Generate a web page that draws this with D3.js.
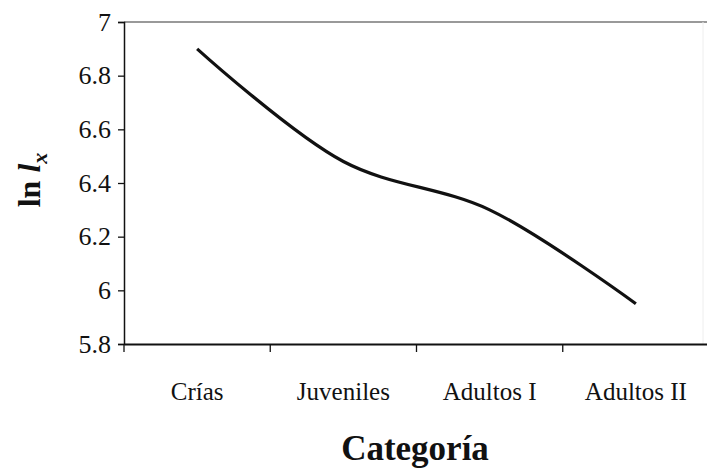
<!DOCTYPE html>
<html>
<head>
<meta charset="utf-8">
<script src="https://cdn.jsdelivr.net/npm/d3@7"></script>
<style>
  body { margin: 0; background: #fff; }
  text { font-family: "Liberation Serif", "DejaVu Serif", serif; fill: #111; }
</style>
</head>
<body>
<script>
// Data
var categorias = ["Crías", "Juveniles", "Adultos I", "Adultos II"];
var lnLx = [6.9, 6.48, 6.30, 5.95];
var yTicks = [5.8, 6, 6.2, 6.4, 6.6, 6.8, 7];

// Width and height
var w = 707;
var h = 472;
var m = {top: 22, right: -2, bottom: 128, left: 124};

var svg = d3.select("body")
            .append("svg")
            .attr("width", w)
            .attr("height", h);

var x = d3.scaleBand()
          .domain(categorias)
          .range([m.left, w - m.right]);

var y = d3.scaleLinear()
          .domain([5.8, 7])
          .range([h - m.bottom, m.top]);

// top and right frame (light gray)
svg.append("line")
   .attr("x1", m.left).attr("x2", w)
   .attr("y1", y(7)).attr("y2", y(7))
   .style("stroke", "#777").style("stroke-width", 1.5);
svg.append("line")
   .attr("x1", 703).attr("x2", 703)
   .attr("y1", y(7)).attr("y2", y(5.8))
   .style("stroke", "#eee").style("stroke-width", 1);

// Y axis
var yAxis = svg.append("g")
   .attr("transform", "translate(" + m.left + ",0)")
   .call(d3.axisLeft(y).tickValues(yTicks).tickSize(6).tickFormat(d3.format("")));
yAxis.select(".domain").style("stroke", "#111").style("stroke-width", 1.5);
yAxis.selectAll(".tick line").style("stroke", "#111").style("stroke-width", 1.3);
yAxis.selectAll(".tick text")
     .attr("x", -13)
     .style("font-size", "26px");

// X axis
var xAxis = svg.append("g")
   .attr("transform", "translate(0," + y(5.8) + ")")
   .call(d3.axisBottom(x).tickSize(0).tickSizeOuter(0));
xAxis.select(".domain").style("stroke", "#111").style("stroke-width", 2);
xAxis.selectAll(".tick text")
     .attr("y", 56)
     .attr("dy", 0)
     .style("font-size", "25px");

// category boundary ticks
svg.selectAll(".sep")
   .data(categorias)
   .enter()
   .append("line")
   .attr("x1", function(d){ return x(d); })
   .attr("x2", function(d){ return x(d); })
   .attr("y1", y(5.8))
   .attr("y2", y(5.8) + 8)
   .style("stroke", "#111")
   .style("stroke-width", 1.3);

// line
var line = d3.line()
   .x(function(d, i){ return x(categorias[i]) + x.bandwidth() / 2; })
   .y(function(d){ return y(d); })
   .curve(d3.curveCatmullRom.alpha(0.5));

svg.append("path")
   .datum(lnLx)
   .attr("d", line)
   .style("fill", "none")
   .style("stroke", "#111")
   .style("stroke-width", 3.2);

// axis titles
svg.append("text")
   .attr("x", 415)
   .attr("y", 460)
   .attr("text-anchor", "middle")
   .style("font-size", "35px")
   .style("font-weight", "bold")
   .text("Categoría");

var yl = svg.append("text")
   .attr("transform", "translate(40," + 180 + ") rotate(-90)")
   .attr("text-anchor", "middle")
   .style("font-size", "32px")
   .style("font-weight", "bold");
yl.append("tspan").text("ln ");
yl.append("tspan").style("font-style", "italic").text("l");
yl.append("tspan").attr("dy", 7).style("font-size", "22px").style("font-style", "italic").text("x");
</script>
</body>
</html>
